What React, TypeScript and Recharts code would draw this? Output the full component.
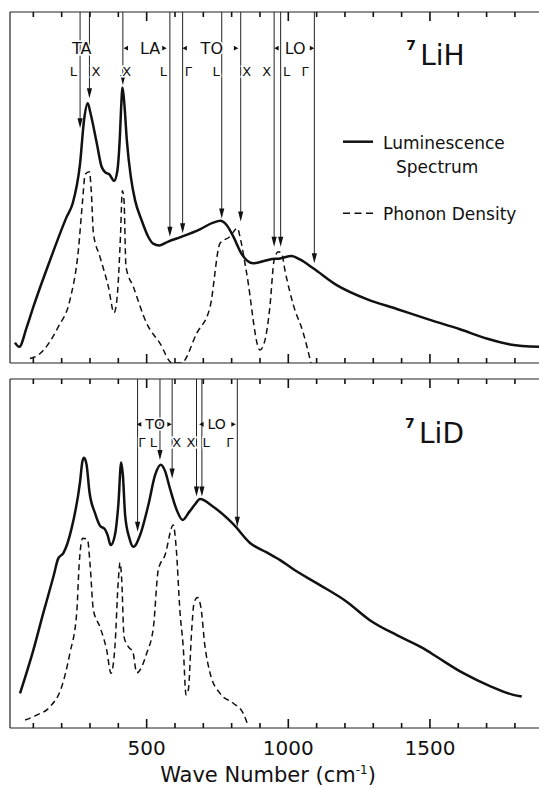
import React from "react";
import { LineChart, Line, XAxis, YAxis, ReferenceLine, ReferenceDot, Legend } from "recharts";

const FONT = "'DejaVu Sans', 'Liberation Sans', sans-serif";
const INK = "#111";

// ---- 7LiH : luminescence spectrum (solid) ----
const lihLumWave = [35, 50, 77, 100, 159, 218, 239, 265, 279, 292, 302, 324, 341, 356, 368, 385, 396, 406, 410, 415, 422, 430, 444, 459, 482, 506, 523, 545, 576, 624, 688, 735, 761, 782, 806, 835, 876, 924, 935, 971, 1012, 1041, 1088, 1171, 1277, 1383, 1500, 1606, 1700, 1783, 1885];
const lihLum = [5.8, 4.6, 10.3, 16, 29.3, 41.7, 45.5, 56.9, 69.2, 74, 71.1, 62.6, 55.9, 54.2, 53.8, 51.9, 54.5, 65.4, 73, 78.5, 73, 63.5, 53.1, 46.4, 40.7, 35.9, 34, 33.5, 34.6, 36, 38.1, 40, 40.5, 39.3, 36, 31.1, 28.4, 29.3, 29.5, 29.8, 30.5, 29.5, 27, 22.2, 18.2, 15.4, 12.3, 9.6, 7, 5.3, 4.6];

// ---- 7LiH : phonon density (dashed) ----
const lihPhWave = [88, 118, 188, 229, 259, 274, 283, 298, 305, 312, 335, 365, 385, 396, 408, 414, 420, 427, 453, 500, 547, 590, 622, 677, 724, 759, 794, 820, 832, 853, 900, 918, 935, 950, 965, 977, 988, 1018, 1053, 1080];
const lihPh = [1.3, 2.3, 10.3, 17.9, 32.2, 46.4, 53.8, 54.5, 48.3, 37, 30.3, 21.7, 14.3, 18.9, 37, 49.1, 46.4, 27.4, 21.7, 11.3, 5.6, 0, 0, 8.5, 16, 34.1, 36, 38.4, 35, 25.6, 3.7, 6.6, 16, 29.3, 31.7, 31.1, 26.5, 16.5, 8.5, 0];

// ---- 7LiD : luminescence spectrum (solid) ----
const lidLumWave = [53, 100, 135, 171, 188, 206, 235, 265, 273, 279, 288, 298, 318, 335, 353, 362, 373, 388, 400, 410, 416, 424, 439, 453, 477, 506, 530, 550, 565, 582, 606, 627, 651, 671, 688, 735, 806, 865, 924, 971, 1018, 1100, 1206, 1288, 1383, 1477, 1524, 1618, 1712, 1794, 1824];
const lidLum = [9.9, 22.3, 32.9, 43.4, 48.6, 50.1, 57.2, 70.6, 76.3, 77.4, 75.4, 67.7, 61.5, 58, 56.9, 55.3, 52.4, 55.3, 63.9, 76.1, 72.5, 61, 54.4, 51.9, 55.3, 63.9, 72.5, 75.4, 73.6, 68.7, 62.5, 59.6, 62, 64.1, 65.6, 63.4, 58.4, 53, 50.3, 48.1, 45.5, 41.5, 36.2, 30.9, 26.6, 22.8, 20.4, 15.7, 12, 9.5, 9];

// ---- 7LiD : phonon density (dashed) ----
const lidPhWave = [71, 112, 159, 200, 229, 253, 262, 274, 291, 300, 312, 335, 359, 374, 388, 400, 406, 412, 420, 435, 451, 465, 500, 524, 541, 565, 594, 604, 618, 629, 639, 647, 659, 667, 679, 691, 706, 724, 759, 806, 841, 859];
const lidPh = [2.3, 3.7, 6.1, 11.8, 21.4, 32.9, 47.2, 54.4, 54.1, 47.2, 33.8, 29, 22.3, 15.7, 23.3, 42.4, 47.4, 42.4, 26.2, 23.3, 21.9, 15.8, 21.4, 29, 45.3, 49.6, 58.2, 51.9, 32.9, 23.3, 9.5, 10.9, 28.1, 35.7, 37.4, 34.8, 23.3, 15.7, 9.9, 7.1, 4.2, 0.4];

// ---- critical point arrows ----
const lihArrowWave = [265, 298, 416, 582, 627, 765, 832, 950, 973, 1092];
const lihArrowTip = [66.9, 75.4, 79.2, 36, 37, 41.2, 40.3, 33.1, 33.1, 28.4];
const lidArrowWave = [468, 547, 590, 676, 695, 820];
const lidArrowTip = [56.2, 76.8, 71.5, 66.3, 66.3, 57.7];

// ---- branch labels / symmetry points ----
const lihBranch = ["TA", "LA", "TO", "LO"];
const lihBranchWave = [271, 512, 730, 1024];
const lihBracketWave = [427, 562, 635, 815, 959, 1083];
const lihPoint = ["L", "X", "X", "L", "Γ", "L", "X", "X", "L", "Γ"];
const lihPointWave = [241, 321, 430, 559, 647, 745, 853, 924, 994, 1059];

const lidBranch = ["TO", "LO"];
const lidBranchWave = [530, 747];
const lidBracketWave = [474, 580, 694, 806];
const lidPoint = ["Γ", "L", "X", "X", "L", "Γ"];
const lidPointWave = [483, 524, 606, 656, 710, 794];

const minorTicks = [100, 200, 300, 400, 500, 600, 700, 800, 900, 1000, 1100, 1200, 1300, 1400, 1500, 1600, 1700, 1800];
const majorTicks = [500, 1000, 1500];
const X_DOMAIN: [number, number] = [17.6, 1885];

const pts = (xs: number[], ys: number[]) => xs.map((x, i) => ({ x, y: ys[i] }));

const FRAME = { stroke: "#222", strokeWidth: 1.2 };

function TickLabel({ x, y, payload }: any) {
  return (
    <text x={x} y={y + 27} textAnchor="middle" fontSize={20} fontFamily={FONT} fill={INK}>
      {payload.value}
    </text>
  );
}

// inward tick mark on the frame, drawn as a thin filled bar
function TickMark({ cx, cy, len, down }: any) {
  return <rect x={cx - 0.8} y={down ? cy : cy - len} width={1.6} height={len} fill="#111" />;
}

function Arrow({ x1, y1, x2, y2 }: any) {
  return (
    <g>
      <line x1={x1} y1={y1} x2={x2} y2={y2 - 6} stroke="#222" strokeWidth={1} />
      <polygon points={`${x2 - 2.6},${y2 - 10} ${x2 + 2.6},${y2 - 10} ${x2},${y2}`} fill={INK} />
    </g>
  );
}

function Tag({ cx, cy, text, size }: any) {
  return (
    <text x={cx} y={cy} textAnchor="middle" dominantBaseline="central" fontSize={size} fontFamily={FONT}
      fill={INK} stroke="#fff" strokeWidth={3} paintOrder="stroke">
      {text}
    </text>
  );
}

function Pointer({ cx, cy, dir }: any) {
  const p = dir < 0
    ? `${cx - 2.5},${cy} ${cx + 2},${cy - 2.3} ${cx + 2},${cy + 2.3}`
    : `${cx + 2.5},${cy} ${cx - 2},${cy - 2.3} ${cx - 2},${cy + 2.3}`;
  return <polygon points={p} fill={INK} />;
}

function Title({ cx, cy, text }: any) {
  return (
    <g fontFamily={FONT} fill={INK}>
      <text x={cx} y={cy - 15} fontSize={14} fontWeight="bold">7</text>
      <text x={cx + 14} y={cy} fontSize={28}>{text}</text>
    </g>
  );
}

function AxisTitle({ viewBox }: any) {
  const { x, y } = viewBox;
  return (
    <text x={x + 258} y={y + 54} textAnchor="middle" fontSize={21} fontFamily={FONT} fill={INK}>
      Wave Number (cm
      <tspan fontSize={12} dy={-8}>-1</tspan>
      <tspan dy={8}>)</tspan>
    </text>
  );
}

function LegendBox() {
  return (
    <svg width={195} height={105} style={{ display: "block" }} fontFamily={FONT} fill={INK}>
      <line x1={3} y1={16.7} x2={33} y2={16.7} stroke={INK} strokeWidth={2.5} />
      <text x={43} y={24.3} fontSize={17}>Luminescence</text>
      <text x={56} y={47.7} fontSize={17}>Spectrum</text>
      <line x1={3} y1={88.3} x2={33} y2={88.3} stroke={INK} strokeWidth={1.5} strokeDasharray="7 4.5" />
      <text x={43} y={95} fontSize={17}>Phonon Density</text>
    </svg>
  );
}

function annotations(
  arrowWave: number[], arrowTip: number[], branch: string[], branchWave: number[], bracketWave: number[],
  point: string[], pointWave: number[], row1: number, row2: number, branchSize: number
) {
  return [
    ...minorTicks.map((t) => (
      <ReferenceDot key={`tb${t}`} x={t} y={0} r={0} ifOverflow="visible"
        shape={(p: any) => <TickMark {...p} len={majorTicks.includes(t) ? 9 : 5} />} />
    )),
    ...minorTicks.map((t) => (
      <ReferenceDot key={`tt${t}`} x={t} y={100} r={0} ifOverflow="visible"
        shape={(p: any) => <TickMark {...p} len={majorTicks.includes(t) ? 9 : 5} down />} />
    )),
    ...arrowWave.map((w, i) => (
      <ReferenceLine key={`a${i}`} segment={[{ x: w, y: 100 }, { x: w, y: arrowTip[i] }]} shape={(p: any) => <Arrow {...p} />} />
    )),
    ...branch.map((b, i) => (
      <ReferenceDot key={`b${i}`} x={branchWave[i]} y={row1} r={0} shape={(p: any) => <Tag {...p} text={b} size={branchSize} />} />
    )),
    ...bracketWave.map((w, i) => (
      <ReferenceDot key={`k${i}`} x={w} y={row1} r={0} shape={(p: any) => <Pointer {...p} dir={i % 2 === 0 ? -1 : 1} />} />
    )),
    ...point.map((s, i) => (
      <ReferenceDot key={`p${i}`} x={pointWave[i]} y={row2} r={0} shape={(p: any) => <Tag {...p} text={s} size={13} />} />
    )),
  ];
}

export default function App() {
  return (
    <div style={{ position: "absolute", left: 0, top: 0, width: 539, height: 789, overflow: "hidden", background: "#fff" }}>
      <LineChart width={539} height={370} margin={{ top: 11, right: 0, bottom: 6, left: 9 }}>
        <XAxis dataKey="x" type="number" domain={X_DOMAIN} allowDataOverflow ticks={minorTicks} height={1}
          tick={false} tickLine={false} axisLine={FRAME} />
        <XAxis xAxisId="top" orientation="top" dataKey="x" type="number" domain={X_DOMAIN} allowDataOverflow ticks={minorTicks} height={1}
          tick={false} tickLine={false} axisLine={FRAME} />
        <YAxis type="number" domain={[0, 100]} allowDataOverflow width={1} tick={false} tickLine={false} axisLine={FRAME} />
        <Line data={pts(lihPhWave, lihPh)} dataKey="y" type="monotone" dot={false} stroke={INK} strokeWidth={1.5}
          strokeDasharray="6 4" isAnimationActive={false} name="Phonon Density" />
        <Line data={pts(lihLumWave, lihLum)} dataKey="y" type="monotone" dot={false} stroke={INK} strokeWidth={2.5}
          isAnimationActive={false} name="Luminescence Spectrum" />
        {annotations(lihArrowWave, lihArrowTip, lihBranch, lihBranchWave, lihBracketWave, lihPoint, lihPointWave, 89.7, 83, 16)}
        <ReferenceDot x={1416} y={84.9} r={0} shape={(p: any) => <Title {...p} text="LiH" />} />
        <Legend layout="vertical" align="center" verticalAlign="middle" content={() => <LegendBox />}
          wrapperStyle={{ left: 340, top: 125, width: 195, height: 105 }} />
      </LineChart>
      <div style={{ position: "absolute", left: 0, top: 370 }}>
        <LineChart width={539} height={419} margin={{ top: 8, right: 0, bottom: 0, left: 9 }}>
          <XAxis dataKey="x" type="number" domain={X_DOMAIN} allowDataOverflow ticks={majorTicks} interval={0} height={61}
            tickSize={0} tickMargin={0} tickLine={false} axisLine={FRAME}
            tick={(p: any) => <TickLabel {...p} />} label={{ content: (p: any) => <AxisTitle {...p} /> }} />
          <XAxis xAxisId="top" orientation="top" dataKey="x" type="number" domain={X_DOMAIN} allowDataOverflow ticks={minorTicks} height={1}
            tick={false} tickLine={false} axisLine={FRAME} />
          <YAxis type="number" domain={[0, 100]} allowDataOverflow width={1} tick={false} tickLine={false} axisLine={FRAME} />
          <Line data={pts(lidPhWave, lidPh)} dataKey="y" type="monotone" dot={false} stroke={INK} strokeWidth={1.5}
            strokeDasharray="6 4" isAnimationActive={false} />
          <Line data={pts(lidLumWave, lidLum)} dataKey="y" type="monotone" dot={false} stroke={INK} strokeWidth={2.5}
            isAnimationActive={false} />
          {annotations(lidArrowWave, lidArrowTip, lidBranch, lidBranchWave, lidBracketWave, lidPoint, lidPointWave, 87, 81.9, 14)}
          <ReferenceDot x={1412} y={81.6} r={0} shape={(p: any) => <Title {...p} text="LiD" />} />
        </LineChart>
      </div>
    </div>
  );
}
